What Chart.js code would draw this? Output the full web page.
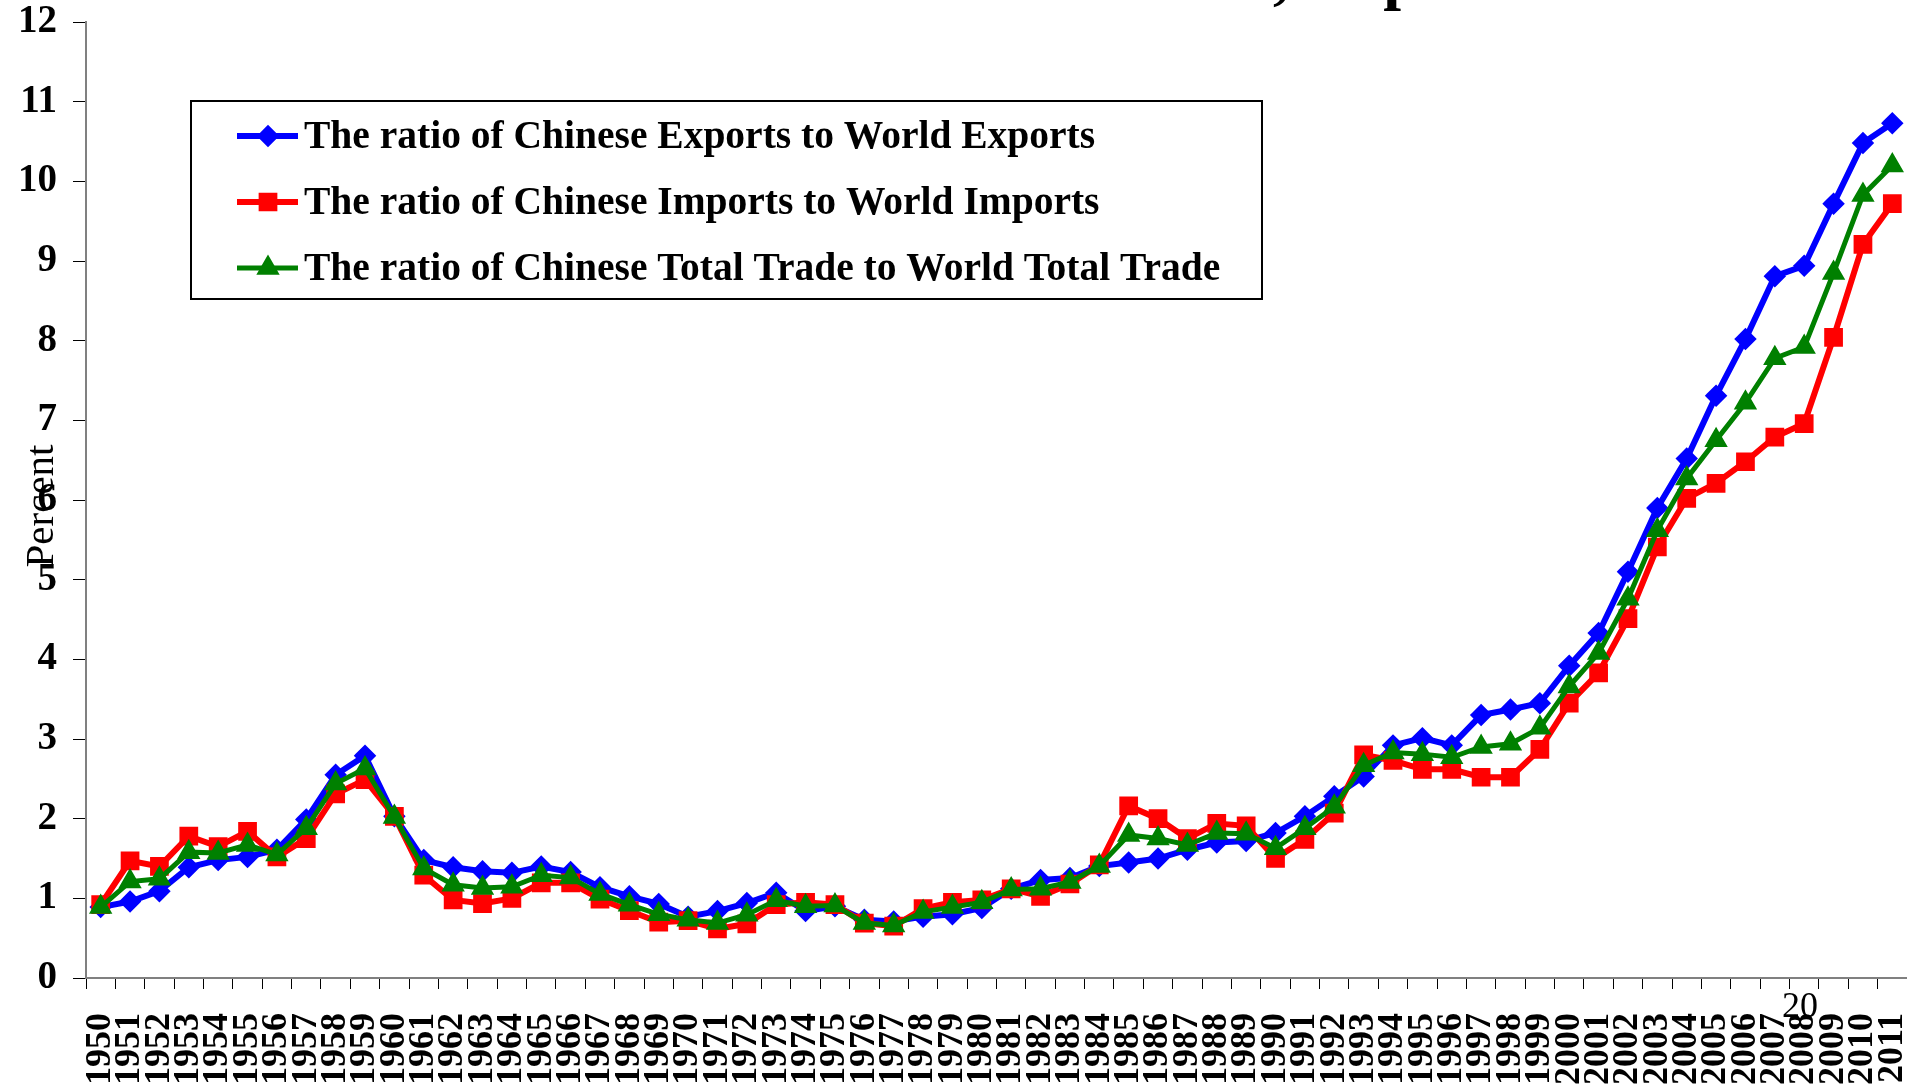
<!DOCTYPE html>
<html>
<head>
<meta charset="utf-8">
<script src="https://cdn.jsdelivr.net/npm/chart.js@4.4.1/dist/chart.umd.min.js"></script>
<style>
  html, body { margin: 0; padding: 0; background: #fff; overflow: hidden; }
  #wrap { width: 1907px; height: 1084px; overflow: hidden; }
</style>
</head>
<body>
<div id="wrap"><canvas id="shareChart" width="1922" height="1100"></canvas></div>
<script>
const years = [];
for (let y = 1950; y <= 2011; y++) years.push(String(y));

const exportsShare = [
    0.89, 0.96, 1.09, 1.39, 1.48, 1.52, 1.61, 1.99, 2.55, 2.79,
    2.03, 1.48, 1.39, 1.34, 1.32, 1.40, 1.33, 1.14, 1.025, 0.93,
    0.77, 0.84, 0.94, 1.07, 0.84, 0.90, 0.73, 0.71, 0.77, 0.80,
    0.88, 1.12, 1.23, 1.255, 1.405, 1.45, 1.50, 1.61, 1.70, 1.72,
    1.82, 2.03, 2.28, 2.53, 2.92, 3.01, 2.92, 3.30, 3.37, 3.45,
    3.92, 4.33, 5.10, 5.90, 6.52, 7.31, 8.02, 8.81, 8.94, 9.72,
    10.48, 10.73
];
const importsShare = [
    0.92, 1.47, 1.40, 1.78, 1.65, 1.84, 1.52, 1.75, 2.31, 2.49,
    2.03, 1.29, 0.98, 0.935, 1.00, 1.195, 1.195, 0.99, 0.845, 0.70,
    0.72, 0.615, 0.68, 0.92, 0.95, 0.92, 0.69, 0.65, 0.87, 0.95,
    0.98, 1.12, 1.025, 1.18, 1.42, 2.16, 2.00, 1.75, 1.94, 1.91,
    1.50, 1.74, 2.07, 2.80, 2.73, 2.62, 2.62, 2.52, 2.52, 2.87,
    3.45, 3.83, 4.51, 5.41, 6.02, 6.21, 6.48, 6.79, 6.96, 8.04,
    9.21, 9.72
];
const totalShare = [
    0.89, 1.21, 1.245, 1.58, 1.57, 1.67, 1.55, 1.88, 2.44, 2.63,
    2.02, 1.375, 1.17, 1.13, 1.145, 1.29, 1.26, 1.055, 0.92, 0.80,
    0.73, 0.69, 0.795, 0.975, 0.90, 0.91, 0.69, 0.66, 0.83, 0.89,
    0.95, 1.11, 1.12, 1.205, 1.405, 1.795, 1.75, 1.67, 1.82, 1.81,
    1.63, 1.88, 2.15, 2.67, 2.83, 2.81, 2.77, 2.90, 2.94, 3.14,
    3.66, 4.08, 4.76, 5.62, 6.27, 6.75, 7.22, 7.78, 7.92, 8.85,
    9.83, 10.20
];

const seriesNames = [
    "The ratio of Chinese Exports to World Exports",
    "The ratio of Chinese Imports to World Imports",
    "The ratio of Chinese Total Trade to World Total Trade"
];
const yTicks = [0, 1, 2, 3, 4, 5, 6, 7, 8, 9, 10, 11, 12];

const serif = "'Liberation Serif', 'Times New Roman', serif";

// legend, axis title, cut-off slide title and page number
const extras = {
    id: "extras",
    afterDraw(chart) {
        const ctx = chart.ctx;
        ctx.save();

        // slide title, almost all of it above the page
        ctx.font = "bold 64px " + serif;
        ctx.fillStyle = "#000";
        ctx.textBaseline = "alphabetic";
        ctx.textAlign = "left";
        const before = "World Trade";
        ctx.fillText(before + ", Imports", 1277 - ctx.measureText(before).width - 4, -3);

        // y axis title, sits over the tick labels like in the slide
        ctx.save();
        ctx.translate(42, 506);
        ctx.rotate(-Math.PI / 2);
        ctx.font = "41px " + serif;
        ctx.textAlign = "center";
        ctx.textBaseline = "middle";
        ctx.fillText("Percent", 0, 0);
        ctx.restore();

        // page number
        ctx.font = "36px " + serif;
        ctx.textAlign = "center";
        ctx.textBaseline = "alphabetic";
        ctx.fillText("20", 1800, 1017);

        // legend box
        ctx.fillStyle = "#fff";
        ctx.fillRect(191, 101, 1071, 198);
        ctx.strokeStyle = "#000";
        ctx.lineWidth = 2;
        ctx.strokeRect(191, 101, 1071, 198);

        const rows = [136, 202, 268];
        chart.data.datasets.forEach((ds, i) => {
            const y = rows[i];
            ctx.strokeStyle = ds.borderColor;
            ctx.lineWidth = ds.borderWidth;
            ctx.beginPath();
            ctx.moveTo(237, y);
            ctx.lineTo(298, y);
            ctx.stroke();
            ctx.fillStyle = ds.pointBackgroundColor;
            if (Chart.helpers && Chart.helpers.drawPoint) {
                Chart.helpers.drawPoint(ctx, {
                    pointStyle: ds.pointStyle,
                    radius: ds.pointRadius,
                    rotation: 0,
                    borderWidth: 1
                }, 268, y);
                ctx.fill();
            }
            ctx.fillStyle = "#000";
            ctx.font = "bold 39.5px " + serif;
            ctx.textAlign = "left";
            ctx.textBaseline = "middle";
            ctx.fillText(ds.label, 304, y + 2);
        });

        ctx.restore();
    }
};

const data = {
    labels: years,
    datasets: [
        {
            label: seriesNames[0],
            data: exportsShare,
            borderColor: "#0000FF",
            backgroundColor: "#0000FF",
            pointBackgroundColor: "#0000FF",
            borderWidth: 6,
            pointStyle: "rectRot",
            pointRadius: 7,
            order: 2,
        },
        {
            label: seriesNames[1],
            data: importsShare,
            borderColor: "#FF0000",
            backgroundColor: "#FF0000",
            pointBackgroundColor: "#FF0000",
            borderWidth: 6,
            pointStyle: "rect",
            pointRadius: 9,
            order: 1,
        },
        {
            label: seriesNames[2],
            data: totalShare,
            borderColor: "#008000",
            backgroundColor: "#008000",
            pointBackgroundColor: "#008000",
            borderWidth: 5,
            pointStyle: "triangle",
            pointRadius: 8.5,
            order: 0,
        },
    ],
};

const config = {
    type: "line",
    data: data,
    plugins: [extras],
    options: {
        responsive: false,
        animation: false,
        layout: { padding: { top: 22, right: 0, left: 0, bottom: 0 } },
        elements: {
            line: { tension: 0 },
            point: { borderWidth: 1 },
        },
        plugins: {
            legend: { display: false },
            tooltip: { enabled: false },
        },
        scales: {
            x: {
                type: "category",
                offset: true,
                afterFit(scale) {
                    scale.height = 122;
                    scale.paddingLeft = 0;
                    scale.paddingRight = 0;
                },
                grid: {
                    offset: true,
                    drawOnChartArea: false,
                    tickLength: 11,
                    color: "#000",
                    lineWidth: 1,
                },
                border: { color: "#808080", width: 2 },
                ticks: {
                    autoSkip: false,
                    minRotation: 90,
                    maxRotation: 90,
                    padding: 24,
                    color: "#000",
                    font: { family: serif, size: 36, weight: "bold" },
                },
            },
            y: {
                min: yTicks[0],
                max: yTicks[yTicks.length - 1],
                afterFit(scale) {
                    scale.width = 86;
                    scale.paddingTop = 0;
                    scale.paddingBottom = 0;
                },
                afterBuildTicks(scale) { scale.ticks = yTicks.map(v => ({ value: v })); },
                grid: {
                    drawOnChartArea: false,
                    tickLength: 13,
                    color: "#000",
                    lineWidth: 1,
                },
                border: { color: "#808080", width: 2 },
                ticks: {
                    padding: 16,
                    color: "#000",
                    font: { family: serif, size: 39, weight: "bold" },
                },
            },
        },
    },
};

new Chart(document.getElementById("shareChart"), config);
</script>
</body>
</html>
